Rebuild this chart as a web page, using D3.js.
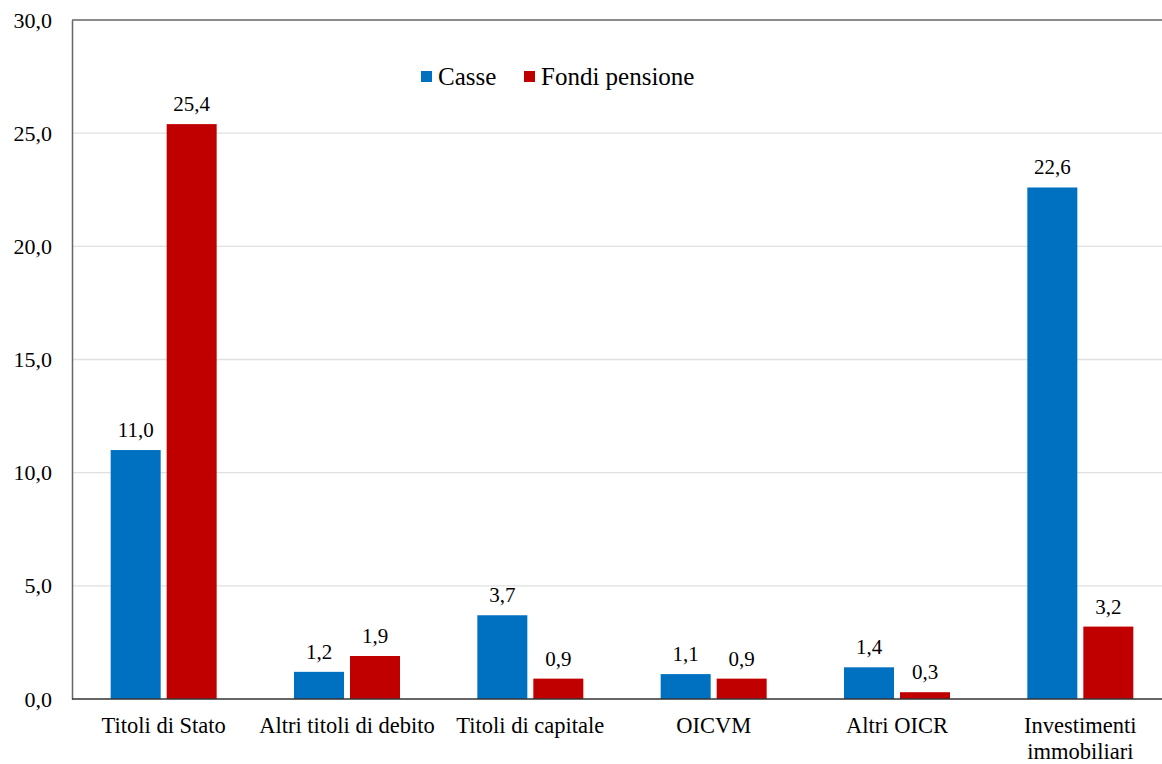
<!DOCTYPE html>
<html><head><meta charset="utf-8">
<script src="https://cdn.jsdelivr.net/npm/d3@7"></script>
<style>
body{margin:0;background:#fff;}
svg{display:block;font-family:"Liberation Serif","Times New Roman",serif;}
</style></head>
<body><svg id="c" width="1162" height="764"></svg>
<script>
const categories = ["Titoli di Stato","Altri titoli di debito","Titoli di capitale","OICVM","Altri OICR","Investimenti immobiliari"];
const seriesNames = ["Casse","Fondi pensione"];
const casse = [11.0, 1.2, 3.7, 1.1, 1.4, 22.6];
const fondiPensione = [25.4, 1.9, 0.9, 0.9, 0.3, 3.2];
const yTicks = [0,5,10,15,20,25,30];
const colors = ["#0070C0","#C00000"];

const svg = d3.select("#c");
const L = 72, R = 1172, T = 20, B = 699;
const x = d3.scaleBand().domain(categories).range([L,R]).paddingInner(0).paddingOuter(0);
const y = d3.scaleLinear().domain([0,30]).range([B,T]);
const fmt = v => d3.format(".1f")(v).replace(".",",");

// gridlines
svg.append("g").selectAll("line").data(yTicks.filter(t=>t>0 && t<30)).join("line")
  .attr("x1",L).attr("x2",R).attr("y1",d=>y(d)).attr("y2",d=>y(d))
  .attr("stroke","#e0e0e0").attr("stroke-width",1.3);
// top border
svg.append("line").attr("x1",L).attr("x2",R).attr("y1",y(30)).attr("y2",y(30))
  .attr("stroke","#666").attr("stroke-width",1.5);

// y axis
const yAxis = d3.axisLeft(y).tickValues(yTicks).tickFormat(fmt).tickSize(0).tickPadding(20);
const ga = svg.append("g").attr("transform",`translate(${L},0)`).call(yAxis);
ga.select(".domain").attr("stroke","#666").attr("stroke-width",1.5);
ga.selectAll("text").attr("font-size",22).attr("fill","#000").attr("font-family","Liberation Serif");

const data = categories.map((c,i)=>({c, vals:[casse[i], fondiPensione[i]]}));
const barW = 50, gap = 6;
const g = svg.append("g");
data.forEach(d=>{
  const cx = x(d.c) + x.bandwidth()/2;
  d.vals.forEach((v,j)=>{
    const x0 = j===0 ? cx - gap/2 - barW : cx + gap/2;
    g.append("rect").attr("x",x0).attr("y",y(v)).attr("width",barW).attr("height",y(0)-y(v))
      .attr("fill",colors[j]);
    g.append("text").attr("x",x0+barW/2).attr("y",y(v)-13).attr("text-anchor","middle")
      .attr("font-size",21).attr("fill","#000").text(fmt(v));
  });
});

// x axis
svg.append("line").attr("x1",L).attr("x2",R).attr("y1",B).attr("y2",B)
  .attr("stroke","#333").attr("stroke-width",1.5);
const xl = svg.append("g");
categories.forEach(c=>{
  const cx = x(c) + x.bandwidth()/2;
  const lines = c==="Investimenti immobiliari" ? ["Investimenti","immobiliari"] : [c];
  const t = xl.append("text").attr("text-anchor","middle").attr("font-size",22.5).attr("fill","#000");
  lines.forEach((ln,k)=>t.append("tspan").attr("x",cx).attr("y",733+k*26).text(ln));
});

// legend
const leg = svg.append("g");
const legItems = [{n:seriesNames[0],x:421},{n:seriesNames[1],x:524}];
legItems.forEach((it,i)=>{
  leg.append("rect").attr("x",it.x).attr("y",71).attr("width",11).attr("height",11).attr("fill",colors[i]);
  leg.append("text").attr("x",it.x+17).attr("y",85).attr("font-size",25).attr("fill","#000").text(it.n);
});
</script></body></html>
